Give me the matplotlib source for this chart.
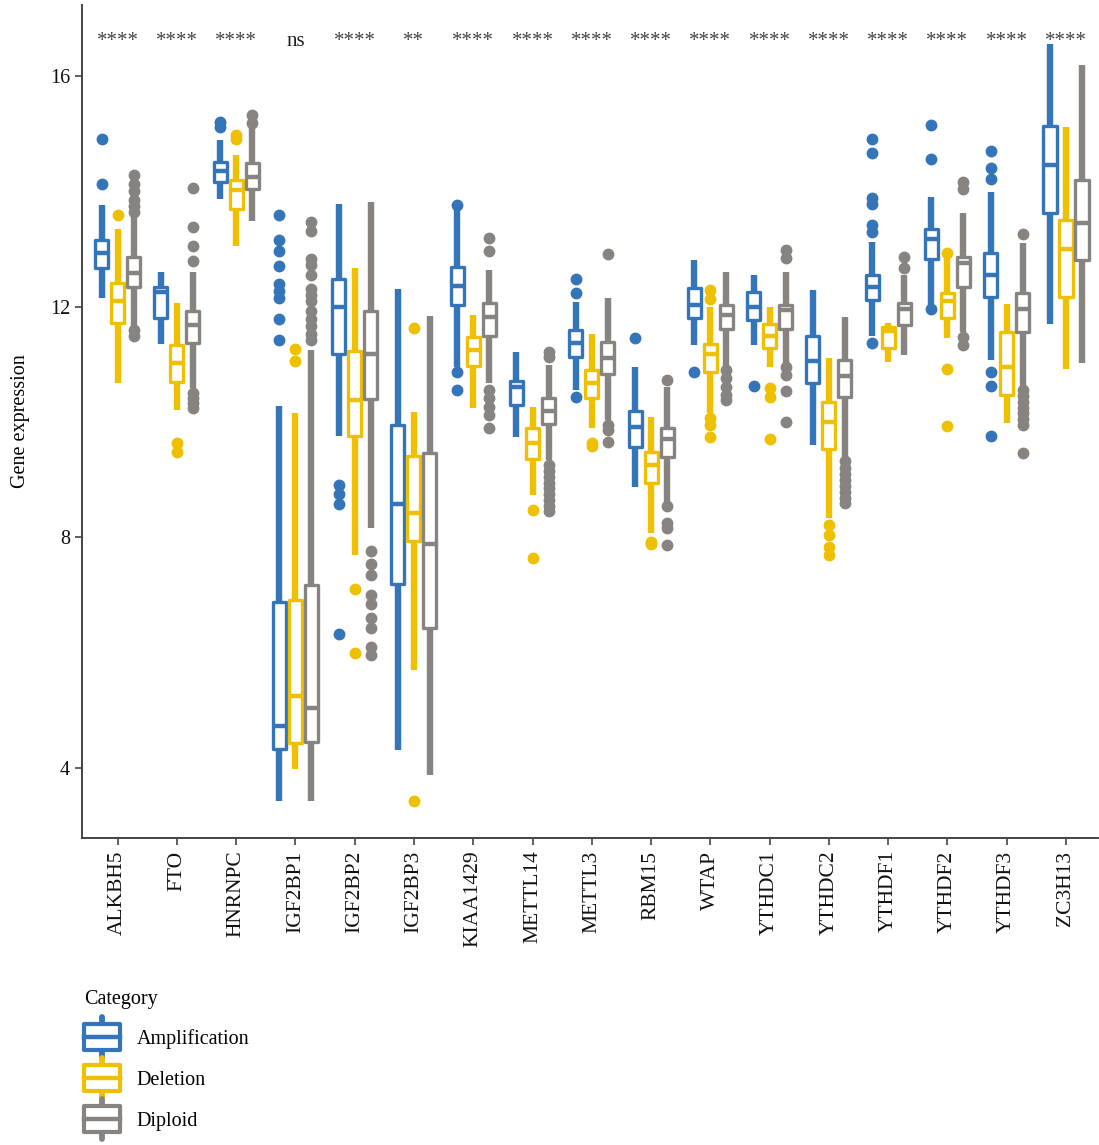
import matplotlib
matplotlib.use("Agg")
import matplotlib.pyplot as plt
from matplotlib.legend_handler import HandlerBase
from matplotlib.patches import Rectangle
from matplotlib.lines import Line2D

plt.rcParams['font.family'] = ['Liberation Serif', 'DejaVu Serif']

genes = ["ALKBH5", "FTO", "HNRNPC", "IGF2BP1", "IGF2BP2", "IGF2BP3", "KIAA1429",
         "METTL14", "METTL3", "RBM15", "WTAP", "YTHDC1", "YTHDC2", "YTHDF1",
         "YTHDF2", "YTHDF3", "ZC3H13"]
signif = ["****", "****", "****", "ns", "****", "**", "****", "****", "****",
          "****", "****", "****", "****", "****", "****", "****", "****"]
categories = ["Amplification", "Deletion", "Diploid"]
colors = ["#3474B8", "#EEC000", "#878381"]

# Amplification: whisker low, Q1, median, Q3, whisker high, outliers
amp_lo  = [12.15, 11.35, 13.87, 3.43, 9.76, 4.31, 10.95, 9.74, 10.56, 8.87, 11.33, 11.33, 9.60, 11.49, 11.96, 11.07, 11.70]
amp_q1  = [12.67, 11.80, 14.16, 4.33, 11.18, 7.19, 12.03, 10.29, 11.13, 9.57, 11.80, 11.77, 10.68, 12.12, 12.83, 12.17, 13.62]
amp_med = [12.93, 12.25, 14.35, 4.73, 11.99, 8.58, 12.36, 10.60, 11.37, 9.91, 12.03, 12.00, 11.06, 12.34, 13.17, 12.55, 14.46]
amp_q3  = [13.16, 12.34, 14.51, 6.88, 12.48, 9.95, 12.69, 10.71, 11.60, 10.19, 12.32, 12.25, 11.49, 12.55, 13.35, 12.93, 15.13]
amp_hi  = [13.76, 12.60, 14.89, 10.28, 13.78, 12.31, 13.71, 11.21, 12.08, 10.95, 12.81, 12.55, 12.29, 13.12, 13.90, 13.99, 16.55]
amp_out = [[14.91, 14.13], [], [15.12, 15.20],
           [13.59, 13.16, 12.97, 12.71, 12.39, 12.27, 12.15, 11.79, 11.42],
           [8.91, 8.75, 8.58, 6.32], [], [13.76, 10.87, 10.56], [],
           [12.48, 12.24, 10.44], [11.46], [10.87], [10.62], [],
           [14.91, 14.66, 13.88, 13.78, 13.42, 13.29, 11.37],
           [15.15, 14.56, 11.96], [14.70, 14.40, 14.21, 10.87, 10.62, 9.76], []]

# Deletion
del_lo  = [10.68, 10.21, 13.05, 3.98, 7.69, 5.70, 10.24, 8.73, 9.90, 8.07, 10.16, 10.95, 8.33, 11.04, 11.45, 9.98, 10.92]
del_q1  = [11.72, 10.69, 13.69, 4.43, 9.76, 7.93, 10.97, 9.36, 10.42, 8.94, 10.87, 11.28, 9.53, 11.28, 11.80, 10.47, 12.17]
del_med = [12.10, 11.02, 14.02, 5.25, 10.38, 8.42, 11.25, 9.64, 10.68, 9.25, 11.18, 11.49, 10.00, 11.58, 12.10, 10.95, 13.00]
del_q3  = [12.41, 11.34, 14.20, 6.91, 11.23, 9.41, 11.48, 9.90, 10.90, 9.48, 11.35, 11.70, 10.35, 11.65, 12.24, 11.56, 13.50]
del_hi  = [13.35, 12.06, 14.63, 10.16, 12.67, 10.17, 11.86, 10.26, 11.53, 10.09, 12.00, 12.00, 11.11, 11.72, 12.85, 12.05, 15.11]
del_out = [[13.59], [9.64, 9.48], [14.91, 14.98], [11.27, 11.06], [7.10, 5.99],
           [11.63, 3.43], [], [8.47, 7.64], [9.64, 9.58], [7.92, 7.88],
           [12.29, 12.13, 10.07, 9.95, 9.74], [10.59, 10.44, 9.70],
           [8.21, 8.04, 7.83, 7.69], [], [12.93, 10.92, 9.93], [], []]

# Diploid
dip_lo  = [11.65, 10.59, 13.49, 3.43, 8.16, 3.88, 10.68, 9.34, 10.03, 8.60, 10.95, 11.02, 9.39, 11.16, 11.56, 10.61, 11.02]
dip_q1  = [12.34, 11.37, 14.04, 4.45, 10.40, 6.43, 11.49, 9.97, 10.83, 9.39, 11.61, 11.61, 10.44, 11.68, 12.34, 11.56, 12.81]
dip_med = [12.58, 11.68, 14.25, 5.04, 11.18, 7.88, 11.82, 10.19, 11.11, 9.70, 11.86, 11.94, 10.80, 11.96, 12.76, 11.96, 13.45]
dip_q3  = [12.86, 11.93, 14.49, 7.17, 11.93, 9.46, 12.06, 10.42, 11.39, 9.90, 12.03, 12.03, 11.08, 12.06, 12.86, 12.24, 14.20]
dip_hi  = [13.59, 12.60, 15.10, 11.25, 13.82, 11.84, 12.64, 10.99, 12.15, 10.61, 12.60, 12.60, 11.82, 12.55, 13.62, 13.10, 16.19]
dip_out = [[14.28, 14.13, 14.00, 13.85, 13.75, 13.65, 11.59, 11.50],
           [14.06, 13.38, 13.05, 12.79, 10.50, 10.42, 10.33, 10.24],
           [15.32, 15.18],
           [13.47, 13.31, 12.83, 12.72, 12.55, 12.31, 12.20, 12.10, 11.92, 11.79, 11.66, 11.52, 11.42],
           [7.76, 7.54, 7.35, 7.00, 6.84, 6.60, 6.43, 6.10, 5.96], [],
           [13.19, 12.97, 10.56, 10.42, 10.26, 10.12, 9.90],
           [11.21, 11.13, 9.25, 9.15, 9.05, 8.95, 8.85, 8.75, 8.65, 8.55, 8.45],
           [12.91, 9.95, 9.86, 9.65], [10.73, 8.55, 8.25, 8.16, 7.87],
           [10.90, 10.76, 10.61, 10.47, 10.38], [12.98, 12.84, 10.95, 10.81, 10.54, 10.00],
           [9.32, 9.20, 9.10, 9.00, 8.90, 8.78, 8.68, 8.60], [12.86, 12.67],
           [14.16, 14.04, 11.47, 11.34],
           [13.26, 10.55, 10.45, 10.35, 10.25, 10.15, 10.05, 9.95, 9.46], []]

series = [(amp_lo, amp_q1, amp_med, amp_q3, amp_hi, amp_out),
          (del_lo, del_q1, del_med, del_q3, del_hi, del_out),
          (dip_lo, dip_q1, dip_med, dip_q3, dip_hi, dip_out)]

W, H = 1099, 1145
fig = plt.figure(figsize=(W / 100, H / 100), dpi=100)
ax = fig.add_axes([82 / W, 1 - 838 / H, (1098 - 82) / W, (838 - 5) / H])

offsets = [-0.27, 0.0, 0.27]
for (lo, q1, med, q3, hi, out), c, off in zip(series, colors, offsets):
    stats = []
    for i in range(len(genes)):
        stats.append(dict(whislo=lo[i], q1=q1[i], med=med[i], q3=q3[i],
                          whishi=hi[i], fliers=out[i]))
    pos = [i + off for i in range(len(genes))]
    ax.bxp(stats, positions=pos, widths=0.22, patch_artist=True,
           showcaps=False, showfliers=True, manage_ticks=False,
           boxprops=dict(facecolor='white', edgecolor=c, linewidth=2.4,
                         joinstyle='round'),
           medianprops=dict(color=c, linewidth=3.2, solid_capstyle='butt'),
           whiskerprops=dict(color=c, linewidth=4.6, solid_capstyle='butt'),
           flierprops=dict(marker='o', markerfacecolor=c, markeredgecolor=c,
                           markersize=7.5, linestyle='none'))

for i, s in enumerate(signif):
    ax.text(i, 16.6, s, ha='center', va='center', fontsize=15,
            color='#222222' if s == 'ns' else '#444444')

ax.set_xlim(-0.6, 16.54)
ax.set_ylim(2.79, 17.23)
ax.set_xticks(range(len(genes)))
ax.set_xticklabels(genes, rotation=90, fontsize=15.5)
ax.set_yticks([4, 8, 12, 16])
ax.set_yticklabels(['4', '8', '12', '16'], fontsize=14.5)
ax.set_ylabel('Gene expression', fontsize=14.5, labelpad=14)
for sp in ['top', 'right']:
    ax.spines[sp].set_visible(False)
for sp in ['left', 'bottom']:
    ax.spines[sp].set_color('#444444')
    ax.spines[sp].set_linewidth(1.4)
ax.tick_params(axis='both', colors='#444444', length=5, width=1.2,
               labelcolor='#111111')
ax.tick_params(axis='x', pad=4)


class BoxHandler(HandlerBase):
    def __init__(self, color):
        super().__init__()
        self.color = color

    def create_artists(self, legend, orig_handle, xdescent, ydescent,
                       width, height, fontsize, trans):
        c = self.color
        cx = -xdescent + width / 2
        y0 = -ydescent
        h = height
        whisk = Line2D([cx, cx], [y0 - 5, y0 + h + 5],
                       color=c, linewidth=4.2, solid_capstyle='round',
                       transform=trans)
        box = Rectangle((-xdescent, y0), width, h, facecolor='white',
                        edgecolor=c, linewidth=3.0, joinstyle='round',
                        transform=trans)
        medl = Line2D([-xdescent, -xdescent + width], [y0 + h / 2] * 2,
                      color=c, linewidth=3.2, transform=trans)
        return [whisk, box, medl]


handles = [Rectangle((0, 0), 1, 1) for _ in categories]
leg = fig.legend(handles, categories, loc='upper left',
                 bbox_to_anchor=(80 / W, 1 - 986 / H),
                 frameon=False, title='Category', fontsize=14.5,
                 title_fontsize=14.5, alignment='left',
                 handlelength=1.8, handleheight=1.6, labelspacing=0.75,
                 handletextpad=0.8, borderaxespad=0, borderpad=0.2,
                 handler_map={h: BoxHandler(c) for h, c in zip(handles, colors)})
leg._legend_handle_box.sep = 12

fig.savefig('out.png', dpi=100)
